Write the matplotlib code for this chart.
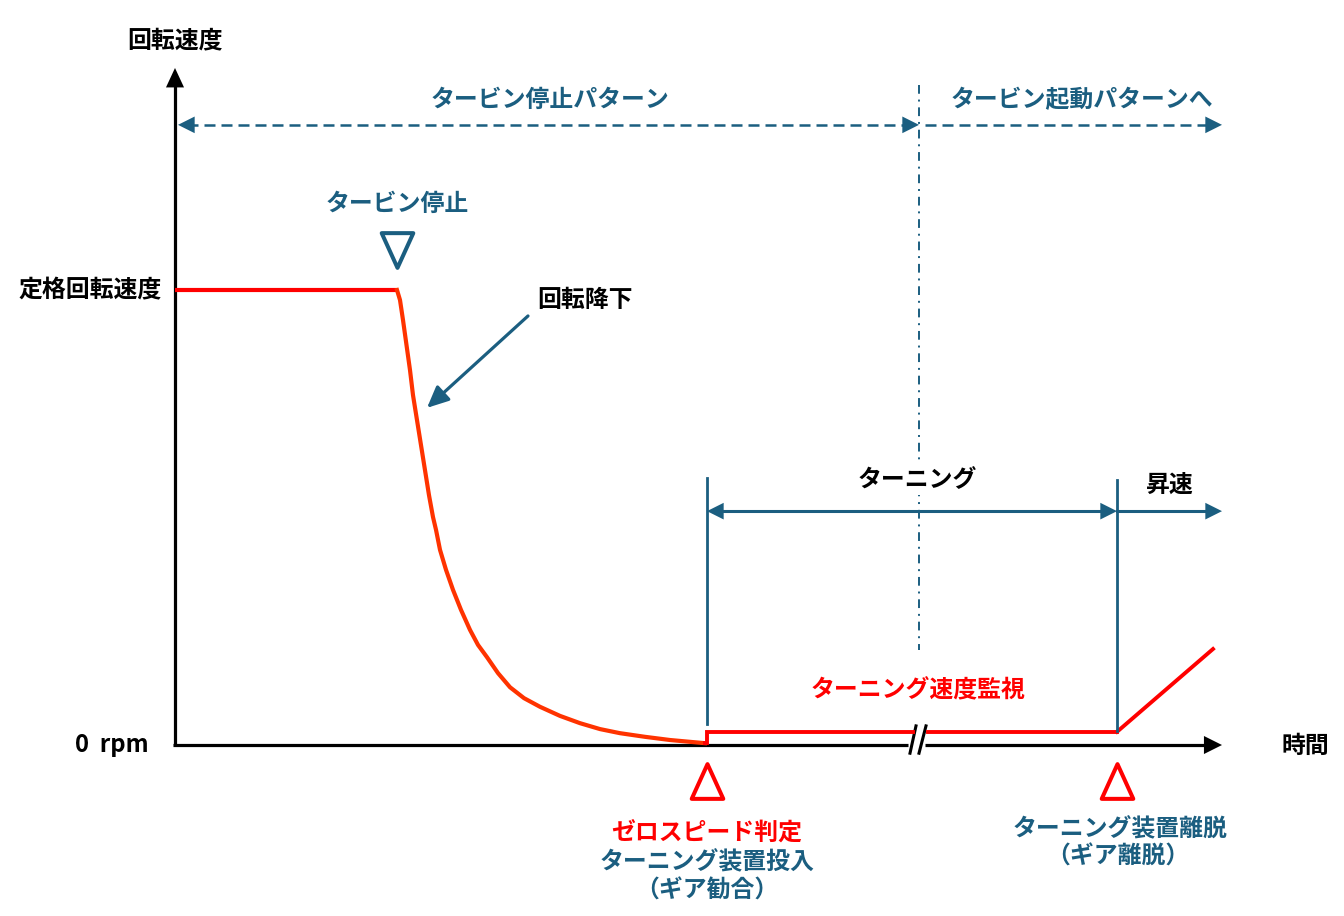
import matplotlib
matplotlib.use("Agg")
import matplotlib.pyplot as plt
from matplotlib.path import Path
from matplotlib.markers import MarkerStyle

plt.rcParams['font.family'] = ['Noto Sans CJK JP', 'DejaVu Sans']

BLUE = '#1b5e80'
RED = '#ff0000'
ORANGE = '#ff3300'
BLACK = '#000000'

# ---- data (time in arbitrary units, speed in % of rated) ----
rated_speed = 100
stop_time = 22.2          # turbine stop
zero_time = 53.2          # zero speed / turning gear engaged
break_time = 74.4         # time-axis break
release_time = 94.2       # turning gear released
axis_end_time = 104.7
turning_speed = 2.9

coast_t = [22.2, 22.5, 22.8, 23.5, 23.8, 24.2, 24.6, 25.0, 25.4, 25.8,
           26.1, 26.5, 27.1, 27.8, 28.6, 29.5, 30.3, 31.2, 32.3, 33.5,
           34.9, 36.5, 38.5, 40.5, 42.5, 44.5, 47.0, 49.5, 51.5, 53.0]
coast_s = [100, 97.8, 93.4, 82.4, 76.9, 71.4, 65.9, 60.4, 54.9, 50.1,
           47.3, 42.9, 38.5, 34.1, 29.7, 25.3, 22.0, 19.3, 15.8, 12.7,
           10.3, 8.4, 6.4, 4.8, 3.5, 2.6, 1.8, 1.1, 0.7, 0.4]

rise_t = [94.2, 103.8]
rise_s = [2.9, 21.1]

fig = plt.figure(figsize=(13.44, 9.16), dpi=100)
ax = fig.add_axes([0, 0, 1, 1])
ax.set_xlim(-17.5, 116.9)
ax.set_ylim(-37.58, 163.74)
ax.axis('off')

FS = 17.2

def head(tip, frm, color, hl=1.2, hw=0.6):
    ax.annotate('', xy=tip, xytext=frm,
                arrowprops=dict(arrowstyle=f'-|>,head_length={hl},head_width={hw}',
                                color=color, lw=0, shrinkA=0, shrinkB=0,
                                mutation_scale=10))

# ---- axes ----
ax.plot([0, 0], [-0.3, 146], color=BLACK, lw=2.3, solid_capstyle='butt')
head((0, 148.8), (0, 140), BLACK, hl=1.4, hw=0.65)
ax.plot([-0.2, 73.3], [0, 0], color=BLACK, lw=2.3, solid_capstyle='butt')
ax.plot([75.0, 103.5], [0, 0], color=BLACK, lw=2.3, solid_capstyle='butt')
head((axis_end_time, 0), (100, 0), BLACK, hl=1.3, hw=0.65)
# break marks
ax.plot([73.5, 74.1], [-1.8, 4.2], color=BLACK, lw=2.2)
ax.plot([74.4, 75.1], [-1.8, 4.2], color=BLACK, lw=2.2)

# ---- speed curve ----
ax.plot([0, stop_time], [rated_speed, rated_speed], color=RED, lw=3.0,
        solid_capstyle='butt')
ax.plot(coast_t, coast_s, color=ORANGE, lw=3.0, solid_joinstyle='round')
ax.plot([53.0, zero_time, zero_time, 73.8], [0.4, 0.4, turning_speed, turning_speed],
        color=RED, lw=2.8, solid_joinstyle='miter')
ax.plot([75.3, release_time], [turning_speed, turning_speed], color=RED, lw=2.8)
ax.plot(rise_t, rise_s, color=RED, lw=2.8)

# ---- top pattern arrows ----
pat_s = 136.3
ax.plot([1.2, 73.0], [pat_s, pat_s], color=BLUE, lw=1.8, dashes=[4.4, 2.4])
head((0.3, pat_s), (3, pat_s), BLUE)
head((break_time, pat_s), (71, pat_s), BLUE)
ax.plot([75.0, 103.3], [pat_s, pat_s], color=BLUE, lw=1.8, dashes=[4.4, 2.4])
head((axis_end_time, pat_s), (101, pat_s), BLUE)
ax.plot([break_time, break_time], [145, 20.9], color=BLUE, lw=1.4,
        dashes=[4.5, 3, 1, 3])

# ---- turning region ----
ax.plot([zero_time, zero_time], [58.7, 4.6], color=BLUE, lw=2.0)
ax.plot([release_time, release_time], [58.2, 3.1], color=BLUE, lw=2.0)
arr_s = 51.4
ax.plot([zero_time + 1, release_time - 1], [arr_s, arr_s], color=BLUE, lw=2.2)
head((zero_time, arr_s), (zero_time + 3, arr_s), BLUE)
head((release_time, arr_s), (release_time - 3, arr_s), BLUE)
ax.plot([release_time, axis_end_time - 1], [arr_s, arr_s], color=BLUE, lw=2.2)
head((axis_end_time, arr_s), (axis_end_time - 3, arr_s), BLUE)

# ---- 回転降下 pointer ----
ax.annotate('', xy=(25.2, 74.1), xytext=(35.3, 94.3),
            arrowprops=dict(arrowstyle='-|>,head_length=1.3,head_width=0.6',
                            color=BLUE, lw=2.3, shrinkA=0, shrinkB=0,
                            mutation_scale=10))

# ---- triangle markers ----
down_tri = MarkerStyle(Path([(-0.91, 1), (0.91, 1), (0, -1), (-0.91, 1)],
                            [Path.MOVETO, Path.LINETO, Path.LINETO, Path.CLOSEPOLY]),
                       joinstyle='miter')
up_tri = MarkerStyle(Path([(-0.91, -1), (0.91, -1), (0, 1), (-0.91, -1)],
                          [Path.MOVETO, Path.LINETO, Path.LINETO, Path.CLOSEPOLY]),
                     joinstyle='miter')
ax.plot([stop_time], [108.7], marker=down_tri, ms=25, mfc='none', mec=BLUE, mew=2.9,
        ls='none')
ax.plot([zero_time, release_time], [-7.9, -7.9], marker=up_tri, ms=25, mfc='none',
        mec=RED, mew=2.9, ls='none')

# ---- texts ----
def txt(x, y, s, color=BLACK, bg=False):
    kw = {}
    if bg:
        kw['bbox'] = dict(facecolor='white', edgecolor='none', pad=2)
    ax.text(x, y, s, ha='center', va='center', fontsize=FS, fontweight='bold',
            color=color, **kw)

txt(0, 154.9, '回転速度')
txt(-8.5, 100, '定格回転速度')
txt(-6.3, 0, '0  rpm')
txt(113.0, -0.2, '時間')
txt(37.5, 141.8, 'タービン停止パターン', BLUE)
txt(90.7, 141.8, 'タービン起動パターンへ', BLUE)
txt(22.2, 118.9, 'タービン停止', BLUE)
txt(41.0, 97.8, '回転降下')
txt(74.2, 58.2, 'ターニング', bg=True)
txt(99.5, 57.1, '昇速')
txt(74.3, 12.1, 'ターニング速度監視', RED)
txt(53.2, -19.3, 'ゼロスピード判定', RED)
txt(53.2, -25.7, 'ターニング装置投入', BLUE)
txt(53.2, -32.1, '（ギア勧合）', BLUE)
txt(94.5, -18.5, 'ターニング装置離脱', BLUE)
txt(94.3, -24.6, '（ギア離脱）', BLUE)

fig.savefig('out.png', dpi=100)
